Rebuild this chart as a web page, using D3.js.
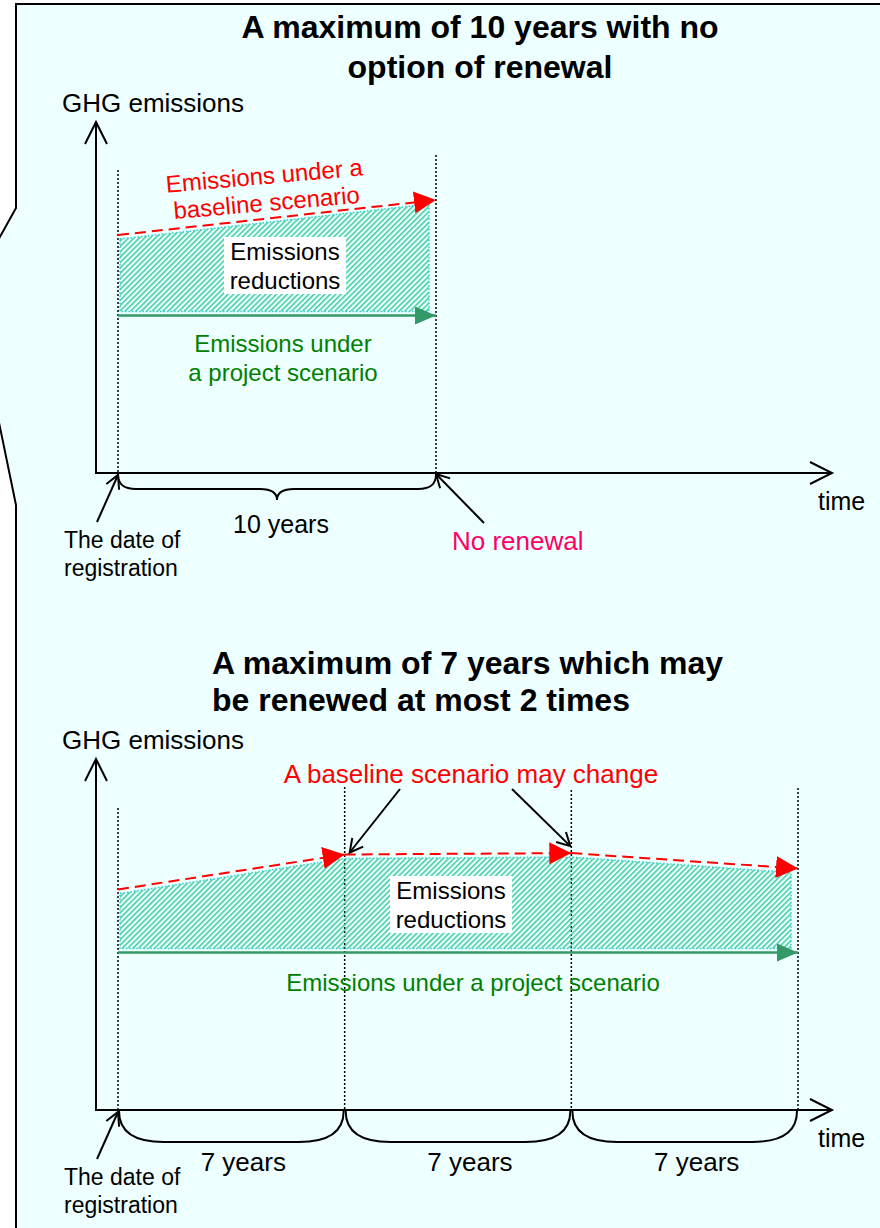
<!DOCTYPE html>
<html>
<head>
<meta charset="utf-8">
<script src="https://cdn.jsdelivr.net/npm/d3@7"></script>
<style>
  body { margin: 0; background: #fff; }
  text { font-family: "Liberation Sans", Arial, sans-serif; }
</style>
</head>
<body>
<div id="viz"></div>
<script>
// panel 1 : 10 year crediting period, no renewal
var years1 = [0, 10],
    baseline1 = [68, 78],
    project1 = [45, 45],
    periods1 = ["10 years"],
    titles1 = ["A maximum of 10 years with no", "option of renewal"];

// panel 2 : 7 year period, renewed twice
var years2 = [0, 7, 14, 21],
    baseline2 = [63, 73, 73.4, 69],
    project2 = [45, 45, 45, 45],
    periods2 = ["7 years", "7 years", "7 years"],
    titles2 = ["A maximum of 7 years which may", "be renewed at most 2 times"];

var W = 880, H = 1228,
    black = "#000",
    red = "#ff0000",
    green = "#339966",
    greenText = "#008000";

var svg = d3.select('#viz').append('svg')
    .attr('width', W)
    .attr('height', H);

var defs = svg.append('defs');

// hatch for the reductions area
defs.append('pattern')
    .attr('id', 'hatch')
    .attr('patternUnits', 'userSpaceOnUse')
    .attr('width', 3.8)
    .attr('height', 3.8)
    .attr('patternTransform', 'rotate(45)')
    .append('rect')
    .attr('width', 1.5)
    .attr('height', 3.8)
    .attr('fill', '#3ccb9c');

function triMarker(id, color, len, wid) {
    defs.append('marker')
        .attr('id', id)
        .attr('markerUnits', 'userSpaceOnUse')
        .attr('viewBox', '0 0 ' + len + ' ' + wid)
        .attr('markerWidth', len)
        .attr('markerHeight', wid)
        .attr('refX', len)
        .attr('refY', wid / 2)
        .attr('orient', 'auto')
        .append('path')
        .attr('d', 'M0,0L' + len + ',' + (wid / 2) + 'L0,' + wid + 'Z')
        .attr('fill', color);
}
triMarker('triRed', red, 22, 22);
triMarker('triGreen', green, 21, 18);

// background callout shape
svg.append('path')
    .attr('d', 'M884,4L16,4L16,208L-4,244L-4,408L16,505L16,1232L884,1232Z')
    .attr('fill', '#eeffff')
    .attr('stroke', black)
    .attr('stroke-width', 2);

// open arrow head at (x2,y2)
function chevron(g, x1, y1, x2, y2, len, half) {
    var a = Math.atan2(y2 - y1, x2 - x1);
    var bx = x2 - len * Math.cos(a), by = y2 - len * Math.sin(a);
    var px = -Math.sin(a) * half, py = Math.cos(a) * half;
    g.append('path')
        .attr('d', 'M' + (bx + px) + ',' + (by + py) + 'L' + x2 + ',' + y2 + 'L' + (bx - px) + ',' + (by - py))
        .attr('fill', 'none')
        .attr('stroke', black)
        .attr('stroke-width', 2);
}

function arrow(g, x1, y1, x2, y2, len, half) {
    g.append('line')
        .attr('x1', x1).attr('y1', y1)
        .attr('x2', x2).attr('y2', y2)
        .attr('stroke', black)
        .attr('stroke-width', 2);
    chevron(g, x1, y1, x2, y2, len, half);
}

function lines(g, arr, x, y0, dy, size, color, anchor, weight) {
    arr.forEach(function (t, i) {
        g.append('text')
            .attr('x', x)
            .attr('y', y0 + i * dy)
            .attr('text-anchor', anchor || 'start')
            .style('font-size', size + 'px')
            .style('font-weight', weight || 'normal')
            .attr('fill', color)
            .text(t);
    });
}

function drawPanel(p) {
    var g = svg.append('g');
    var x = d3.scaleLinear().domain([0, p.years[p.years.length - 1]]).range(p.xRange);
    var y = d3.scaleLinear().domain([0, 100]).range([p.axisY, p.axisY - 350]);

    // titles
    lines(g, p.titles, p.titleX, p.titleY, p.titleDy, 32, black, p.titleAnchor, 'bold');
    lines(g, ["GHG emissions"], 62, p.axisY - 361, 0, 26, black);
    lines(g, ["time"], 818, p.axisY + 37, 0, 25, black);

    // dotted period boundaries
    g.selectAll('line.period').data(p.years)
        .enter().append('line')
        .attr('x1', function (d) { return x(d); })
        .attr('x2', function (d) { return x(d); })
        .attr('y1', function (d, i) { return p.dotTop[i]; })
        .attr('y2', p.axisY)
        .attr('stroke', black)
        .attr('stroke-width', 1.5)
        .attr('stroke-dasharray', '2,2');

    // hatched reductions area
    var n = p.years.length;
    var pts = p.years.map(function (t, i) {
        return { x: x(t), top: y(p.baseline[i]) + 4, bot: y(p.project[i]) - 4 };
    });
    pts[0].x += 2;
    pts[n - 1].x -= 7;
    var area = d3.area()
        .x(function (d) { return d.x; })
        .y0(function (d) { return d.bot; })
        .y1(function (d) { return d.top; });
    g.append('path')
        .attr('d', area(pts))
        .attr('fill', 'url(#hatch)')
        .attr('stroke', '#33cccc')
        .attr('stroke-width', 1.5)
        .attr('stroke-dasharray', '1.5,2');

    // baseline scenario, one dashed arrow per period
    var line = d3.line()
        .x(function (d) { return x(d[0]); })
        .y(function (d) { return y(d[1]); });
    for (var i = 0; i < n - 1; i++) {
        g.append('path')
            .attr('d', line([[p.years[i], p.baseline[i]], [p.years[i + 1], p.baseline[i + 1]]]))
            .attr('fill', 'none')
            .attr('stroke', red)
            .attr('stroke-width', 2)
            .attr('stroke-dasharray', '11,6')
            .attr('marker-end', 'url(#triRed)');
    }

    // project scenario
    g.append('path')
        .attr('d', line([[p.years[0], p.project[0]], [p.years[n - 1], p.project[n - 1]]]))
        .attr('fill', 'none')
        .attr('stroke', green)
        .attr('stroke-width', 2.5)
        .attr('marker-end', 'url(#triGreen)');

    // reductions label box
    var bx = p.box[0], by = p.box[1];
    g.append('rect')
        .attr('x', bx - 61).attr('y', by - 28)
        .attr('width', 122).attr('height', 57)
        .attr('fill', '#fff');
    lines(g, ["Emissions", "reductions"], bx, by - 5, 29, 24, black, 'middle');

    // axes
    arrow(g, 96, p.axisY + 1, 96, p.axisTop, 22, 11);
    arrow(g, 95, p.axisY, 832, p.axisY, 22, 11);

    // registration date
    arrow(g, x(0) - 21, p.axisY + 49, x(0), p.axisY + 2, 13, 7);
    lines(g, ["The date of", "registration"], 64, p.axisY + 75, 28, 23, black);

    return { g: g, x: x, y: y };
}

// ---------- panel 1 ----------
var p1 = drawPanel({
    years: years1, baseline: baseline1, project: project1,
    titles: titles1, titleX: 480, titleY: 38, titleDy: 40, titleAnchor: 'middle',
    xRange: [118, 436], axisY: 473, axisTop: 122,
    dotTop: [170, 155], box: [285, 265]
});

// brace with a middle tip
(function () {
    var x0 = p1.x(0), x1 = p1.x(10), xm = (x0 + x1) / 2, b = 473;
    p1.g.append('path')
        .attr('d', 'M' + x0 + ',' + (b + 1) + 'C' + x0 + ',' + (b + 12) + ' ' + (x0 + 6) + ',' + (b + 16) + ' ' + (x0 + 18) + ',' + (b + 16) +
            'L' + (xm - 17) + ',' + (b + 16) + 'C' + (xm - 7) + ',' + (b + 16) + ' ' + xm + ',' + (b + 19) + ' ' + xm + ',' + (b + 27) +
            'C' + xm + ',' + (b + 19) + ' ' + (xm + 7) + ',' + (b + 16) + ' ' + (xm + 17) + ',' + (b + 16) +
            'L' + (x1 - 18) + ',' + (b + 16) + 'C' + (x1 - 6) + ',' + (b + 16) + ' ' + x1 + ',' + (b + 12) + ' ' + x1 + ',' + (b + 1))
        .attr('fill', 'none')
        .attr('stroke', black)
        .attr('stroke-width', 2);
    lines(p1.g, periods1, xm + 4, b + 60, 0, 25, black, 'middle');
})();

// baseline label, slightly tilted
var rl = p1.g.append('g').attr('transform', 'translate(266,196) rotate(-5)');
lines(rl, ["Emissions under a", "baseline scenario"], 0, -12, 27, 24, red, 'middle');

lines(p1.g, ["Emissions under", "a project scenario"], 283, 352, 29, 24, greenText, 'middle');

// no renewal
arrow(p1.g, p1.x(10) + 48, 523, p1.x(10), 474, 13, 7);
lines(p1.g, ["No renewal"], 452, 550, 0, 26, "#ff0066");

// ---------- panel 2 ----------
var p2 = drawPanel({
    years: years2, baseline: baseline2, project: project2,
    titles: titles2, titleX: 212, titleY: 674, titleDy: 37, titleAnchor: 'start',
    xRange: [118, 798], axisY: 1110, axisTop: 759,
    dotTop: [808, 787, 790, 788], box: [451, 904]
});

// rounded brackets under each period
for (var k = 0; k < periods2.length; k++) {
    var a0 = p2.x(years2[k]) + 1, a1 = p2.x(years2[k + 1]) - 1, b2 = 1110;
    p2.g.append('path')
        .attr('d', 'M' + a0 + ',' + (b2 + 1) + 'C' + a0 + ',' + (b2 + 24) + ' ' + (a0 + 18) + ',' + (b2 + 32) + ' ' + (a0 + 45) + ',' + (b2 + 32) +
            'L' + (a1 - 45) + ',' + (b2 + 32) + 'C' + (a1 - 18) + ',' + (b2 + 32) + ' ' + a1 + ',' + (b2 + 24) + ' ' + a1 + ',' + (b2 + 1))
        .attr('fill', 'none')
        .attr('stroke', black)
        .attr('stroke-width', 2);
    lines(p2.g, [periods2[k]], (a0 + a1) / 2 + 12, b2 + 61, 0, 26, black, 'middle');
}

lines(p2.g, ["A baseline scenario may change"], 471, 783, 0, 26, red, 'middle');
arrow(p2.g, 400, 789, p2.x(7) + 5, p2.y(baseline2[1]) - 2, 13, 7);
arrow(p2.g, 512, 789, p2.x(14) - 1, p2.y(baseline2[2]) - 7, 13, 7);

lines(p2.g, ["Emissions under a project scenario"], 473, 991, 0, 24, greenText, 'middle');
</script>
</body>
</html>
